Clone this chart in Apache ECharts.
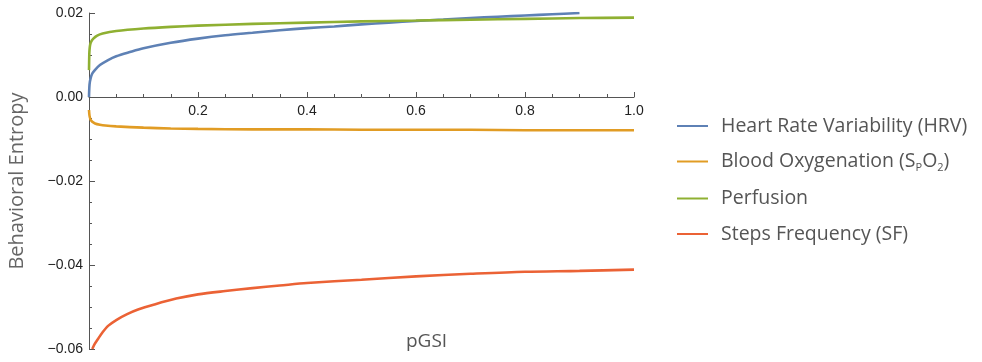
<!DOCTYPE html>
<html><head><meta charset="utf-8">
<script src="https://cdn.jsdelivr.net/npm/echarts@6/dist/echarts.min.js"></script>
<style>html,body{margin:0;padding:0;background:#fff}#c{width:982px;height:362px}</style>
</head><body><div id="c"></div>
<script>
const seriesNames = ['Heart Rate Variability (HRV)', 'Blood Oxygenation (SpO2)', 'Perfusion', 'Steps Frequency (SF)'];
const colors = ['#5E81B5', '#E19C24', '#8FB032', '#EB6235'];
const xTicks = [0, 0.2, 0.4, 0.6, 0.8, 1.0];
const yTicks = [-0.06, -0.04, -0.02, 0.00, 0.02];

const hrvX = [0, 0.001, 0.003, 0.006, 0.01, 0.02, 0.035, 0.05, 0.075, 0.1, 0.15, 0.2, 0.25, 0.3, 0.35, 0.4, 0.45, 0.5, 0.55, 0.6, 0.65, 0.7, 0.75, 0.8, 0.85, 0.9];
const hrvY = [0, 0.0030, 0.0045, 0.0056, 0.0063, 0.0076, 0.0088, 0.0097, 0.0107, 0.0116, 0.0129, 0.0139, 0.0147, 0.0153, 0.0159, 0.0164, 0.0168, 0.0173, 0.0177, 0.0181, 0.01845, 0.0188, 0.0191, 0.0194, 0.0197, 0.0200];
const spo2X = [0, 0.001, 0.003, 0.006, 0.011, 0.02, 0.03, 0.05, 0.1, 0.15, 0.2, 0.3, 0.4, 0.5, 0.6, 0.7, 0.8, 0.9, 1.0];
const spo2Y = [-0.0031, -0.0045, -0.0054, -0.0059, -0.0063, -0.0066, -0.0068, -0.0070, -0.0073, -0.0075, -0.0076, -0.0077, -0.0077, -0.0078, -0.0078, -0.0078, -0.0079, -0.0079, -0.0079];
const perfX = [0, 0.0005, 0.001, 0.002, 0.004, 0.008, 0.015, 0.025, 0.05, 0.1, 0.15, 0.2, 0.3, 0.4, 0.5, 0.6, 0.7, 0.8, 0.9, 1.0];
const perfY = [0.0064, 0.0100, 0.0113, 0.0124, 0.0132, 0.0139, 0.0146, 0.0151, 0.0157, 0.0163, 0.0167, 0.0170, 0.0174, 0.0177, 0.0180, 0.0182, 0.0184, 0.0186, 0.0188, 0.0189];
const sfX = [0.006, 0.01, 0.017, 0.025, 0.035, 0.05, 0.07, 0.09, 0.12, 0.16, 0.2, 0.25, 0.3, 0.35, 0.4, 0.5, 0.6, 0.7, 0.8, 0.9, 1.0];
const sfY = [-0.0600, -0.0589, -0.0575, -0.0560, -0.0545, -0.0531, -0.0517, -0.0506, -0.0494, -0.0480, -0.0470, -0.0462, -0.0455, -0.0449, -0.0443, -0.0435, -0.0427, -0.0421, -0.0416, -0.0414, -0.0411];

const allX = [hrvX, spo2X, perfX, sfX];
const allY = [hrvY, spo2Y, perfY, sfY];

const chart = echarts.init(document.getElementById('c'), null, {renderer: 'canvas'});
const axisColor = '#555';
const tickFont = {fontFamily: 'Liberation Sans', fontSize: 14, color: '#222'};

const option = {
  animation: false,
  grid: {left: 89, right: 348, top: 13, bottom: 13, containLabel: false, outerBoundsMode: 'none'},
  xAxis: {
    type: 'value', min: 0, max: 1, interval: 0.2,
    offset: -252,
    axisLine: {show: true, onZero: false, lineStyle: {color: axisColor, width: 1}},
    axisTick: {show: true, inside: true, length: 5, lineStyle: {color: axisColor}},
    minorTick: {show: true, splitNumber: 4, length: 3, lineStyle: {color: axisColor}},
    splitLine: {show: false},
    axisLabel: Object.assign({margin: 7, formatter: v => (Math.abs(v) < 1e-9 ? '' : v.toFixed(1))}, tickFont)
  },
  yAxis: {
    type: 'value', min: -0.06, max: 0.02, interval: 0.02,
    axisLine: {show: true, onZero: false, lineStyle: {color: axisColor, width: 1}},
    axisTick: {show: true, inside: true, length: 6, lineStyle: {color: axisColor}},
    minorTick: {show: true, splitNumber: 4, length: 3, lineStyle: {color: axisColor}},
    splitLine: {show: false},
    axisLabel: Object.assign({margin: 6, formatter: v => (v < -1e-9 ? '\u2212' + Math.abs(v).toFixed(2) : Math.abs(v).toFixed(2))}, tickFont),
    name: 'Behavioral Entropy', nameLocation: 'middle', nameRotate: 90, nameGap: 62,
    nameTextStyle: {fontFamily: 'Open Sans', fontSize: 20, color: '#666'}
  },
  legend: {
    orient: 'vertical', left: 672, top: 111,
    itemWidth: 31, itemHeight: 2, itemGap: 15.5,
    icon: 'rect',
    formatter: function (name) {
      if (name === seriesNames[1]) return 'Blood Oxygenation (S{sub|P}O{sub|2})';
      return name;
    },
    textStyle: {
      fontFamily: 'Open Sans', fontSize: 19.5, color: '#555', padding: [0, 0, 0, 8],
      rich: {sub: {fontFamily: 'Open Sans', fontSize: 11, color: '#555', padding: [12, 0, 0, 0]}}
    },
    data: seriesNames.map((n, i) => ({name: n, itemStyle: {color: colors[i]}}))
  },
  graphic: [{
    type: 'text', left: 406, top: 332,
    style: {text: 'pGSI', fontFamily: 'Open Sans', fontSize: 19, fill: '#555'}
  }],
  series: seriesNames.map((n, i) => ({
    name: n, type: 'line', symbol: 'none', smooth: 0.3,
    lineStyle: {color: colors[i], width: 2.6}, itemStyle: {color: colors[i]},
    data: allX[i].map((x, j) => [x, allY[i][j]])
  }))
};
chart.setOption(option);
</script></body></html>
